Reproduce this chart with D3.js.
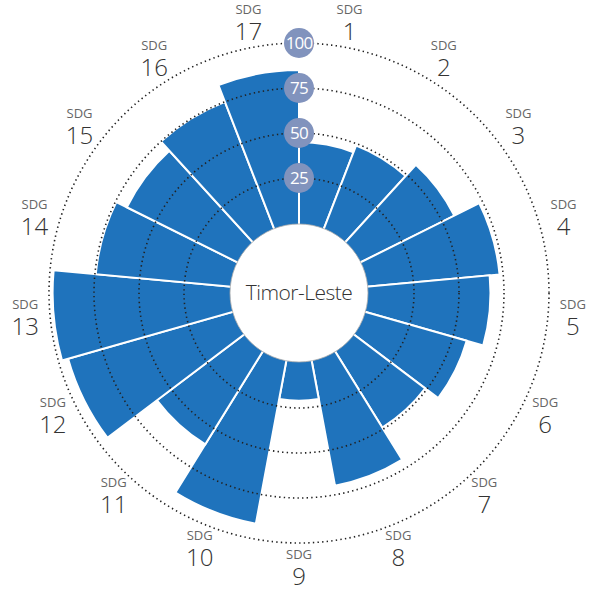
<!DOCTYPE html>
<html>
<head>
<meta charset="utf-8">
<script src="https://cdn.jsdelivr.net/npm/d3@7"></script>
<style>
  html, body { margin: 0; padding: 0; background: #fff; }
  svg { display: block; }
</style>
</head>
<body>
<script>
// goals and scores
var goals = ["1","2","3","4","5","6","7","8","9","10","11","12","13","14","15","16","17"];
var scores = [45, 49, 57.5, 73, 67.5, 58, 49, 70, 21, 91.5, 60, 94.5, 98, 74.5, 68, 75, 85];
var ringTicks = [25, 50, 75, 100];
var countryName = "Timor-Leste";

var width = 598, height = 589;
var cx = 299, cy = 293;
var innerR = 70;

var svg = d3.select("body").append("svg")
  .attr("width", width).attr("height", height);

var g = svg.append("g").attr("transform", "translate(" + cx + "," + cy + ")");

var r = d3.scaleLinear().domain([0, 100]).range([innerR, 250]);
var angle = d3.scaleBand().domain(goals).range([0, 2 * Math.PI]);

var arc = d3.arc()
  .innerRadius(0)
  .outerRadius(function(d) { return r(d.v); })
  .startAngle(function(d) { return angle(d.k); })
  .endAngle(function(d) { return angle(d.k) + angle.bandwidth(); });

var data = goals.map(function(k, i) { return { k: k, v: scores[i] }; });

//The bars
g.selectAll("path.bar").data(data).enter()
  .append("path")
  .attr("class", "bar")
  .attr("d", arc)
  .style("fill", "#1f73bc")
  .style("stroke", "#fff")
  .style("stroke-width", 2);

//Dotted rings
g.selectAll("circle.ring").data(ringTicks).enter()
  .append("circle")
  .attr("class", "ring")
  .attr("r", function(d) { return r(d); })
  .style("fill", "none")
  .style("stroke", "#222")
  .style("stroke-width", 1.6)
  .style("stroke-dasharray", "1.4,3.2");

//Center circle
g.append("circle")
  .attr("r", innerR - 1)
  .style("fill", "#fff")
  .style("stroke", "#aaa")
  .style("stroke-width", 0.8);

g.append("text")
  .attr("y", 7)
  .attr("text-anchor", "middle")
  .style("font-family", "'Open Sans', sans-serif")
  .style("font-weight", 300)
  .style("font-size", "21px")
  .style("letter-spacing", "-0.5px")
  .style("fill", "#333")
  .text(countryName);

//Goal labels
var labR = 275;
var labels = g.selectAll("g.lab").data(goals).enter()
  .append("g")
  .attr("class", "lab")
  .attr("transform", function(d) {
    var a = angle(d) + angle.bandwidth() / 2;
    return "translate(" + (labR * Math.sin(a)) + "," + (-labR * Math.cos(a)) + ")";
  });

labels.append("text")
  .attr("y", -9)
  .attr("text-anchor", "middle")
  .style("font-family", "'Open Sans', sans-serif")
  .style("font-size", "13px")
  .style("fill", "#666")
  .text("SDG");

labels.append("text")
  .attr("y", 17)
  .attr("text-anchor", "middle")
  .style("font-family", "'Open Sans', sans-serif")
  .style("font-weight", 300)
  .style("font-size", "24px")
  .style("fill", "#333")
  .text(function(d) { return d; });

//Ring badges
var badges = g.selectAll("g.badge").data(ringTicks).enter()
  .append("g")
  .attr("class", "badge")
  .attr("transform", function(d) { return "translate(0," + (-r(d)) + ")"; });

badges.append("circle")
  .attr("r", 15)
  .style("fill", "#8193bd");

badges.append("text")
  .attr("y", 6)
  .attr("text-anchor", "middle")
  .style("font-family", "'Open Sans', sans-serif")
  .style("font-size", "17px")
  .style("letter-spacing", "-0.8px")
  .style("fill", "#fff")
  .text(function(d) { return d; });
</script>
</body>
</html>
